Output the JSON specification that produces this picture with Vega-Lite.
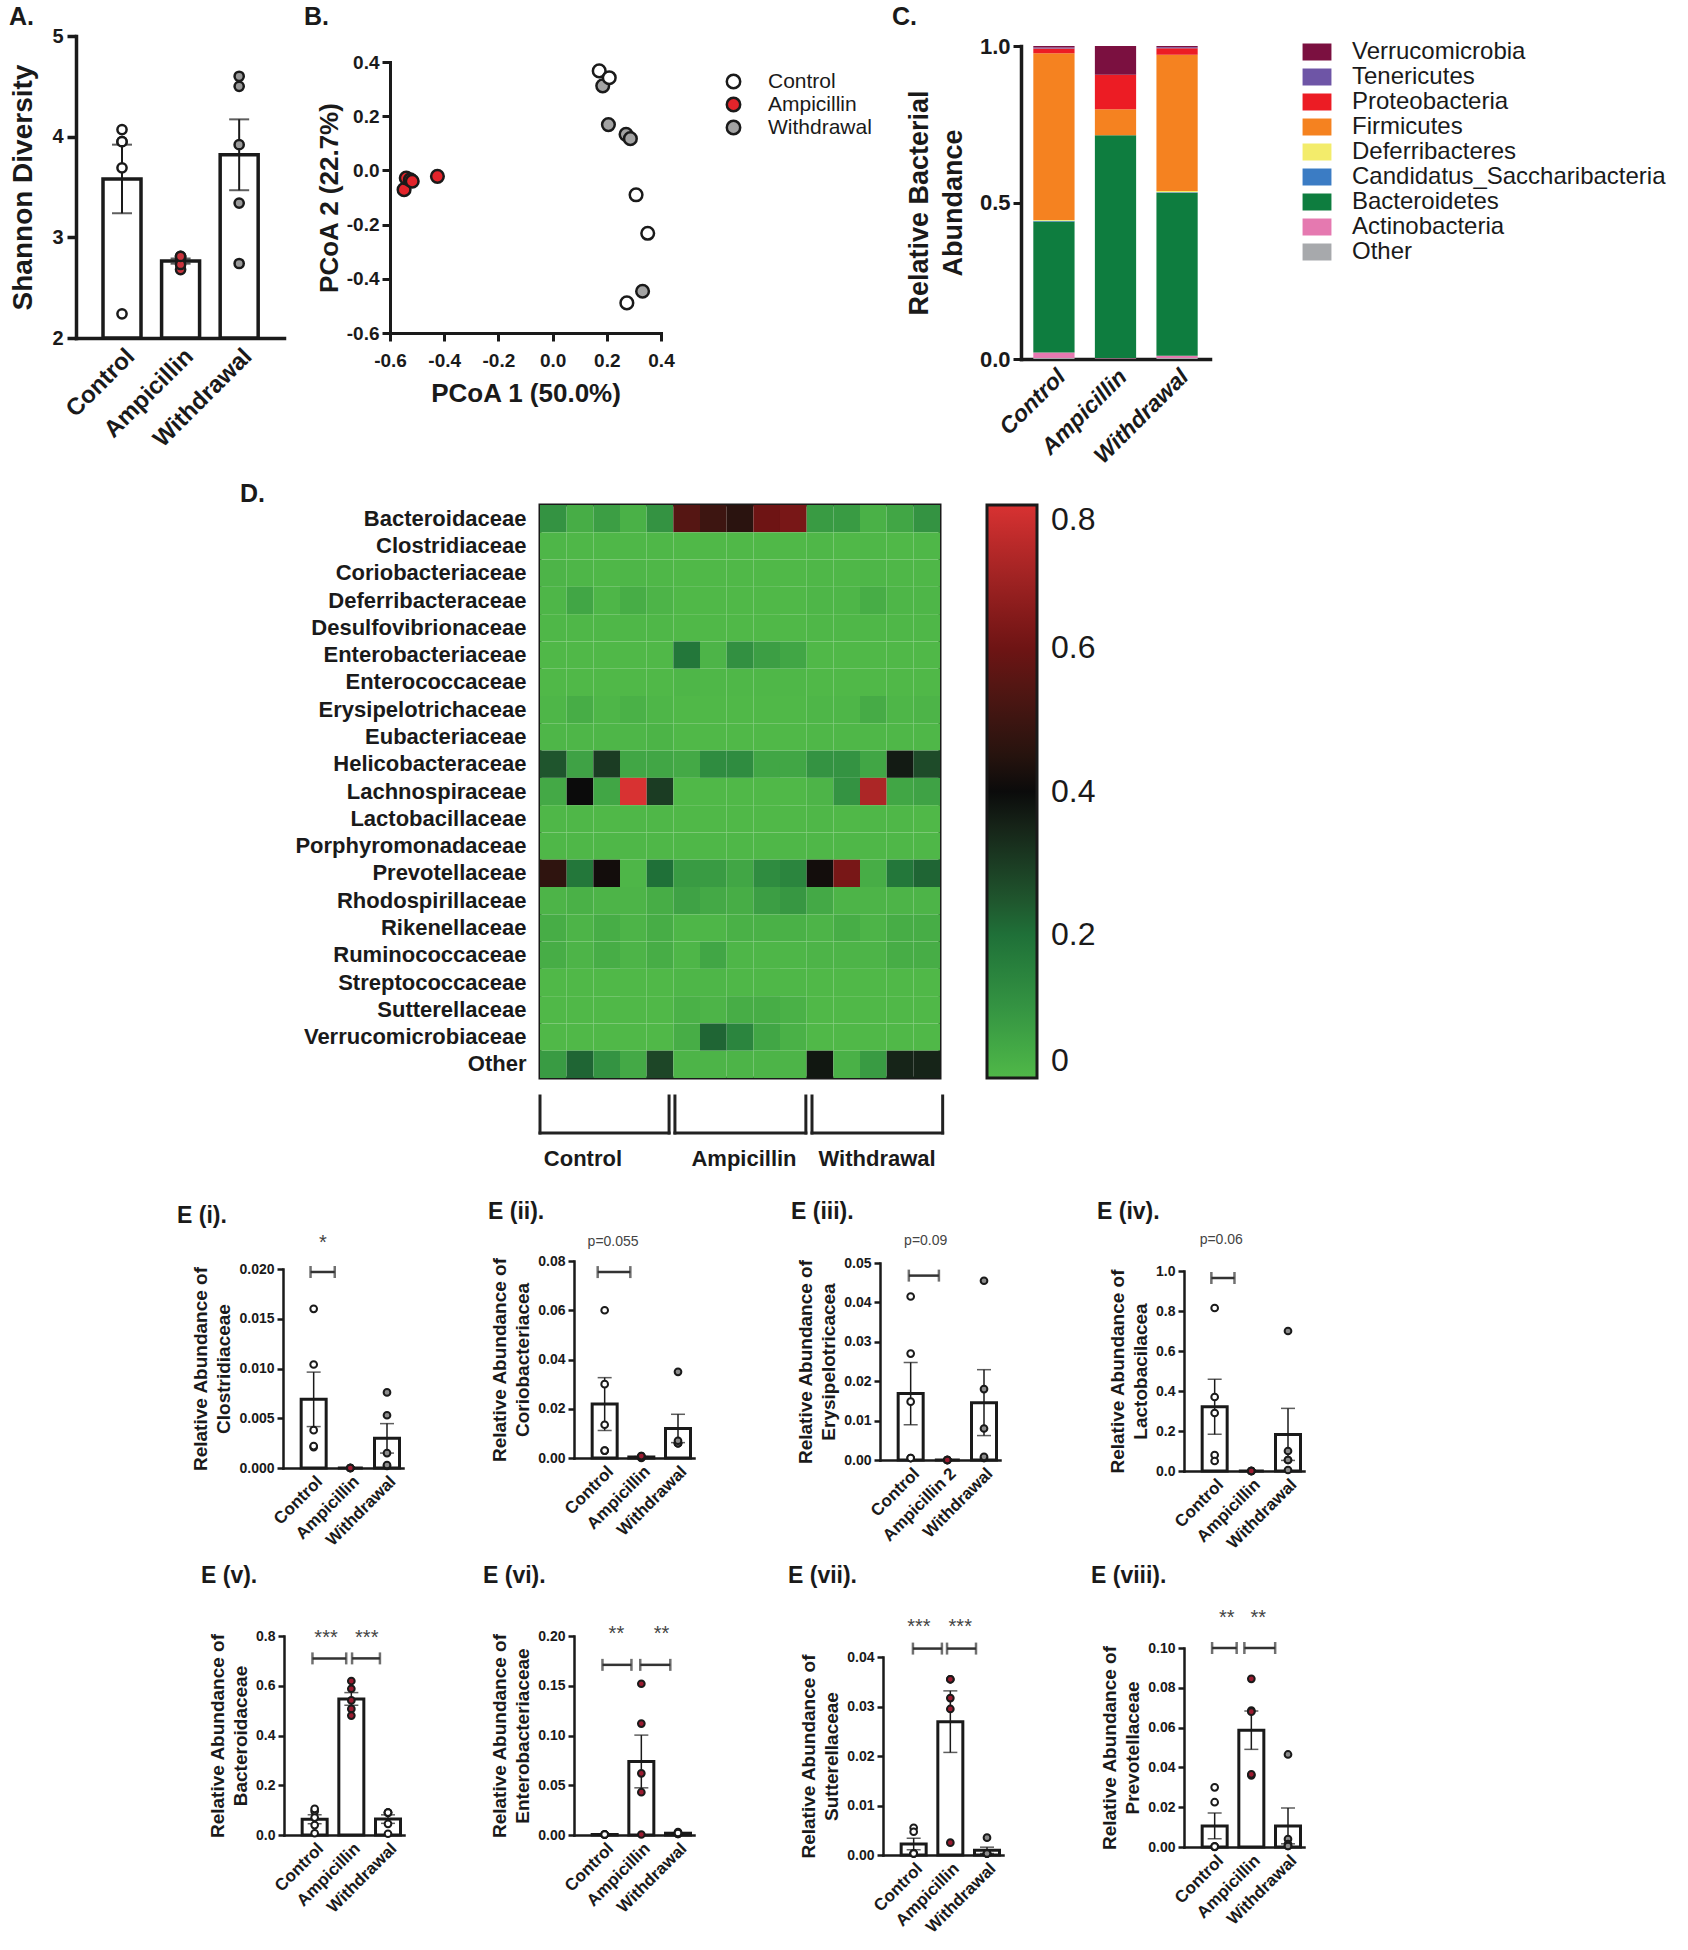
{
"$schema": "https://vega.github.io/schema/vega-lite/v6.json",
"background": "white",
"padding": {"left": 9, "top": 5, "right": 5, "bottom": 5},
"config": {
  "font": "Liberation Sans",
  "view": {"stroke": null},
  "axis": {"labelFont": "Liberation Sans", "titleFont": "Liberation Sans", "labelFontWeight": "bold", "titleFontWeight": "bold", "labelColor": "#1a1a1a", "titleColor": "#1a1a1a", "domainColor": "#1a1a1a", "tickColor": "#1a1a1a", "grid": false, "labelOverlap": false, "labelFlush": false, "domainCap": "square", "labelLimit": 400},
  "title": {"font": "Liberation Sans", "fontWeight": "bold", "color": "#1a1a1a", "anchor": "start", "frame": "group", "baseline": "bottom"},
  "legend": {"labelFont": "Liberation Sans", "labelColor": "#1a1a1a", "labelLimit": 400},
  "text": {"font": "Liberation Sans"}
},
"datasets": {
  "A": [
    {"g":1,"v":4.07,"j":0},{"g":1,"v":3.95,"j":-0.65},{"g":1,"v":3.95,"j":0.65},{"g":1,"v":3.69,"j":0},{"g":1,"v":2.24,"j":0},
    {"g":2,"v":2.81,"j":-0.9},{"g":2,"v":2.79,"j":-0.45},{"g":2,"v":2.68,"j":0},{"g":2,"v":2.73,"j":0.45},{"g":2,"v":2.81,"j":0.9},
    {"g":3,"v":4.6,"j":-0.6},{"g":3,"v":4.5,"j":0.45},{"g":3,"v":3.92,"j":0},{"g":3,"v":3.34,"j":0},{"g":3,"v":2.74,"j":0}
  ],
  "B": [
    {"grp":"Withdrawal","pc1":0.185,"pc2":0.312},{"grp":"Withdrawal","pc1":0.206,"pc2":0.169},{"grp":"Withdrawal","pc1":0.271,"pc2":0.133},{"grp":"Withdrawal","pc1":0.287,"pc2":0.117},{"grp":"Withdrawal","pc1":0.332,"pc2":-0.446},
    {"grp":"Control","pc1":0.172,"pc2":0.367},{"grp":"Control","pc1":0.209,"pc2":0.342},{"grp":"Control","pc1":0.308,"pc2":-0.09},{"grp":"Control","pc1":0.351,"pc2":-0.232},{"grp":"Control","pc1":0.274,"pc2":-0.489},
    {"grp":"Ampicillin","pc1":-0.548,"pc2":-0.071},{"grp":"Ampicillin","pc1":-0.54,"pc2":-0.028},{"grp":"Ampicillin","pc1":-0.525,"pc2":-0.035},{"grp":"Ampicillin","pc1":-0.518,"pc2":-0.04},{"grp":"Ampicillin","pc1":-0.425,"pc2":-0.022}
  ],
  "C": [
    {"grp":"Control","phylum":"Other","k":1,"v":0.003},{"grp":"Control","phylum":"Actinobacteria","k":2,"v":0.018},{"grp":"Control","phylum":"Bacteroidetes","k":3,"v":0.418},{"grp":"Control","phylum":"Candidatus_Saccharibacteria","k":4,"v":0.003},{"grp":"Control","phylum":"Deferribacteres","k":5,"v":0.002},{"grp":"Control","phylum":"Firmicutes","k":6,"v":0.533},{"grp":"Control","phylum":"Proteobacteria","k":7,"v":0.015},{"grp":"Control","phylum":"Tenericutes","k":8,"v":0.003},{"grp":"Control","phylum":"Verrucomicrobia","k":9,"v":0.005},
    {"grp":"Ampicillin","phylum":"Other","k":1,"v":0.0},{"grp":"Ampicillin","phylum":"Actinobacteria","k":2,"v":0.002},{"grp":"Ampicillin","phylum":"Bacteroidetes","k":3,"v":0.713},{"grp":"Ampicillin","phylum":"Candidatus_Saccharibacteria","k":4,"v":0.0},{"grp":"Ampicillin","phylum":"Deferribacteres","k":5,"v":0.0},{"grp":"Ampicillin","phylum":"Firmicutes","k":6,"v":0.083},{"grp":"Ampicillin","phylum":"Proteobacteria","k":7,"v":0.11},{"grp":"Ampicillin","phylum":"Tenericutes","k":8,"v":0.0},{"grp":"Ampicillin","phylum":"Verrucomicrobia","k":9,"v":0.092},
    {"grp":"Withdrawal","phylum":"Other","k":1,"v":0.003},{"grp":"Withdrawal","phylum":"Actinobacteria","k":2,"v":0.007},{"grp":"Withdrawal","phylum":"Bacteroidetes","k":3,"v":0.52},{"grp":"Withdrawal","phylum":"Candidatus_Saccharibacteria","k":4,"v":0.003},{"grp":"Withdrawal","phylum":"Deferribacteres","k":5,"v":0.004},{"grp":"Withdrawal","phylum":"Firmicutes","k":6,"v":0.435},{"grp":"Withdrawal","phylum":"Proteobacteria","k":7,"v":0.021},{"grp":"Withdrawal","phylum":"Tenericutes","k":8,"v":0.003},{"grp":"Withdrawal","phylum":"Verrucomicrobia","k":9,"v":0.004}
  ],
  "D": [
    {"f":"Bacteroidaceae","s":1,"v":0.10},{"f":"Bacteroidaceae","s":2,"v":0.03},{"f":"Bacteroidaceae","s":3,"v":0.07},{"f":"Bacteroidaceae","s":4,"v":0.02},{"f":"Bacteroidaceae","s":5,"v":0.10},{"f":"Bacteroidaceae","s":6,"v":0.55},{"f":"Bacteroidaceae","s":7,"v":0.50},{"f":"Bacteroidaceae","s":8,"v":0.46},{"f":"Bacteroidaceae","s":9,"v":0.60},{"f":"Bacteroidaceae","s":10,"v":0.62},{"f":"Bacteroidaceae","s":11,"v":0.08},{"f":"Bacteroidaceae","s":12,"v":0.08},{"f":"Bacteroidaceae","s":13,"v":0.02},{"f":"Bacteroidaceae","s":14,"v":0.05},{"f":"Bacteroidaceae","s":15,"v":0.10},
    {"f":"Clostridiaceae","s":1,"v":0.005},{"f":"Clostridiaceae","s":2,"v":0.003},{"f":"Clostridiaceae","s":3,"v":0.002},{"f":"Clostridiaceae","s":4,"v":0.004},{"f":"Clostridiaceae","s":5,"v":0.002},{"f":"Clostridiaceae","s":6,"v":0},{"f":"Clostridiaceae","s":7,"v":0},{"f":"Clostridiaceae","s":8,"v":0},{"f":"Clostridiaceae","s":9,"v":0},{"f":"Clostridiaceae","s":10,"v":0},{"f":"Clostridiaceae","s":11,"v":0.002},{"f":"Clostridiaceae","s":12,"v":0.001},{"f":"Clostridiaceae","s":13,"v":0.003},{"f":"Clostridiaceae","s":14,"v":0.001},{"f":"Clostridiaceae","s":15,"v":0.002},
    {"f":"Coriobacteriaceae","s":1,"v":0.01},{"f":"Coriobacteriaceae","s":2,"v":0.005},{"f":"Coriobacteriaceae","s":3,"v":0.003},{"f":"Coriobacteriaceae","s":4,"v":0.006},{"f":"Coriobacteriaceae","s":5,"v":0.003},{"f":"Coriobacteriaceae","s":6,"v":0},{"f":"Coriobacteriaceae","s":7,"v":0},{"f":"Coriobacteriaceae","s":8,"v":0},{"f":"Coriobacteriaceae","s":9,"v":0},{"f":"Coriobacteriaceae","s":10,"v":0},{"f":"Coriobacteriaceae","s":11,"v":0.004},{"f":"Coriobacteriaceae","s":12,"v":0.003},{"f":"Coriobacteriaceae","s":13,"v":0.006},{"f":"Coriobacteriaceae","s":14,"v":0.002},{"f":"Coriobacteriaceae","s":15,"v":0.003},
    {"f":"Deferribacteraceae","s":1,"v":0.005},{"f":"Deferribacteraceae","s":2,"v":0.05},{"f":"Deferribacteraceae","s":3,"v":0.005},{"f":"Deferribacteraceae","s":4,"v":0.03},{"f":"Deferribacteraceae","s":5,"v":0.01},{"f":"Deferribacteraceae","s":6,"v":0},{"f":"Deferribacteraceae","s":7,"v":0},{"f":"Deferribacteraceae","s":8,"v":0},{"f":"Deferribacteraceae","s":9,"v":0},{"f":"Deferribacteraceae","s":10,"v":0},{"f":"Deferribacteraceae","s":11,"v":0.005},{"f":"Deferribacteraceae","s":12,"v":0.005},{"f":"Deferribacteraceae","s":13,"v":0.03},{"f":"Deferribacteraceae","s":14,"v":0.005},{"f":"Deferribacteraceae","s":15,"v":0.005},
    {"f":"Desulfovibrionaceae","s":1,"v":0.003},{"f":"Desulfovibrionaceae","s":2,"v":0.004},{"f":"Desulfovibrionaceae","s":3,"v":0.003},{"f":"Desulfovibrionaceae","s":4,"v":0.004},{"f":"Desulfovibrionaceae","s":5,"v":0.003},{"f":"Desulfovibrionaceae","s":6,"v":0},{"f":"Desulfovibrionaceae","s":7,"v":0},{"f":"Desulfovibrionaceae","s":8,"v":0},{"f":"Desulfovibrionaceae","s":9,"v":0},{"f":"Desulfovibrionaceae","s":10,"v":0},{"f":"Desulfovibrionaceae","s":11,"v":0.003},{"f":"Desulfovibrionaceae","s":12,"v":0.002},{"f":"Desulfovibrionaceae","s":13,"v":0.004},{"f":"Desulfovibrionaceae","s":14,"v":0.003},{"f":"Desulfovibrionaceae","s":15,"v":0.003},
    {"f":"Enterobacteriaceae","s":1,"v":0},{"f":"Enterobacteriaceae","s":2,"v":0},{"f":"Enterobacteriaceae","s":3,"v":0},{"f":"Enterobacteriaceae","s":4,"v":0},{"f":"Enterobacteriaceae","s":5,"v":0},{"f":"Enterobacteriaceae","s":6,"v":0.18},{"f":"Enterobacteriaceae","s":7,"v":0.01},{"f":"Enterobacteriaceae","s":8,"v":0.11},{"f":"Enterobacteriaceae","s":9,"v":0.07},{"f":"Enterobacteriaceae","s":10,"v":0.05},{"f":"Enterobacteriaceae","s":11,"v":0},{"f":"Enterobacteriaceae","s":12,"v":0},{"f":"Enterobacteriaceae","s":13,"v":0},{"f":"Enterobacteriaceae","s":14,"v":0},{"f":"Enterobacteriaceae","s":15,"v":0},
    {"f":"Enterococcaceae","s":1,"v":0},{"f":"Enterococcaceae","s":2,"v":0},{"f":"Enterococcaceae","s":3,"v":0},{"f":"Enterococcaceae","s":4,"v":0},{"f":"Enterococcaceae","s":5,"v":0},{"f":"Enterococcaceae","s":6,"v":0.005},{"f":"Enterococcaceae","s":7,"v":0.003},{"f":"Enterococcaceae","s":8,"v":0.002},{"f":"Enterococcaceae","s":9,"v":0.002},{"f":"Enterococcaceae","s":10,"v":0.002},{"f":"Enterococcaceae","s":11,"v":0},{"f":"Enterococcaceae","s":12,"v":0},{"f":"Enterococcaceae","s":13,"v":0},{"f":"Enterococcaceae","s":14,"v":0},{"f":"Enterococcaceae","s":15,"v":0},
    {"f":"Erysipelotrichaceae","s":1,"v":0.005},{"f":"Erysipelotrichaceae","s":2,"v":0.03},{"f":"Erysipelotrichaceae","s":3,"v":0.005},{"f":"Erysipelotrichaceae","s":4,"v":0.02},{"f":"Erysipelotrichaceae","s":5,"v":0.005},{"f":"Erysipelotrichaceae","s":6,"v":0},{"f":"Erysipelotrichaceae","s":7,"v":0},{"f":"Erysipelotrichaceae","s":8,"v":0},{"f":"Erysipelotrichaceae","s":9,"v":0},{"f":"Erysipelotrichaceae","s":10,"v":0},{"f":"Erysipelotrichaceae","s":11,"v":0.005},{"f":"Erysipelotrichaceae","s":12,"v":0.005},{"f":"Erysipelotrichaceae","s":13,"v":0.035},{"f":"Erysipelotrichaceae","s":14,"v":0.005},{"f":"Erysipelotrichaceae","s":15,"v":0.01},
    {"f":"Eubacteriaceae","s":1,"v":0.005},{"f":"Eubacteriaceae","s":2,"v":0.005},{"f":"Eubacteriaceae","s":3,"v":0.005},{"f":"Eubacteriaceae","s":4,"v":0.005},{"f":"Eubacteriaceae","s":5,"v":0.012},{"f":"Eubacteriaceae","s":6,"v":0},{"f":"Eubacteriaceae","s":7,"v":0},{"f":"Eubacteriaceae","s":8,"v":0},{"f":"Eubacteriaceae","s":9,"v":0},{"f":"Eubacteriaceae","s":10,"v":0},{"f":"Eubacteriaceae","s":11,"v":0.003},{"f":"Eubacteriaceae","s":12,"v":0.003},{"f":"Eubacteriaceae","s":13,"v":0.003},{"f":"Eubacteriaceae","s":14,"v":0.003},{"f":"Eubacteriaceae","s":15,"v":0.003},
    {"f":"Helicobacteraceae","s":1,"v":0.25},{"f":"Helicobacteraceae","s":2,"v":0.06},{"f":"Helicobacteraceae","s":3,"v":0.30},{"f":"Helicobacteraceae","s":4,"v":0.05},{"f":"Helicobacteraceae","s":5,"v":0.05},{"f":"Helicobacteraceae","s":6,"v":0.04},{"f":"Helicobacteraceae","s":7,"v":0.12},{"f":"Helicobacteraceae","s":8,"v":0.12},{"f":"Helicobacteraceae","s":9,"v":0.05},{"f":"Helicobacteraceae","s":10,"v":0.05},{"f":"Helicobacteraceae","s":11,"v":0.10},{"f":"Helicobacteraceae","s":12,"v":0.10},{"f":"Helicobacteraceae","s":13,"v":0.05},{"f":"Helicobacteraceae","s":14,"v":0.37},{"f":"Helicobacteraceae","s":15,"v":0.27},
    {"f":"Lachnospiraceae","s":1,"v":0.04},{"f":"Lachnospiraceae","s":2,"v":0.40},{"f":"Lachnospiraceae","s":3,"v":0.05},{"f":"Lachnospiraceae","s":4,"v":0.80},{"f":"Lachnospiraceae","s":5,"v":0.30},{"f":"Lachnospiraceae","s":6,"v":0},{"f":"Lachnospiraceae","s":7,"v":0},{"f":"Lachnospiraceae","s":8,"v":0},{"f":"Lachnospiraceae","s":9,"v":0},{"f":"Lachnospiraceae","s":10,"v":0},{"f":"Lachnospiraceae","s":11,"v":0.01},{"f":"Lachnospiraceae","s":12,"v":0.10},{"f":"Lachnospiraceae","s":13,"v":0.72},{"f":"Lachnospiraceae","s":14,"v":0.05},{"f":"Lachnospiraceae","s":15,"v":0.06},
    {"f":"Lactobacillaceae","s":1,"v":0.003},{"f":"Lactobacillaceae","s":2,"v":0.002},{"f":"Lactobacillaceae","s":3,"v":0.001},{"f":"Lactobacillaceae","s":4,"v":0.002},{"f":"Lactobacillaceae","s":5,"v":0.002},{"f":"Lactobacillaceae","s":6,"v":0},{"f":"Lactobacillaceae","s":7,"v":0},{"f":"Lactobacillaceae","s":8,"v":0},{"f":"Lactobacillaceae","s":9,"v":0},{"f":"Lactobacillaceae","s":10,"v":0},{"f":"Lactobacillaceae","s":11,"v":0.002},{"f":"Lactobacillaceae","s":12,"v":0.001},{"f":"Lactobacillaceae","s":13,"v":0.003},{"f":"Lactobacillaceae","s":14,"v":0.002},{"f":"Lactobacillaceae","s":15,"v":0.001},
    {"f":"Porphyromonadaceae","s":1,"v":0.003},{"f":"Porphyromonadaceae","s":2,"v":0.003},{"f":"Porphyromonadaceae","s":3,"v":0.002},{"f":"Porphyromonadaceae","s":4,"v":0.003},{"f":"Porphyromonadaceae","s":5,"v":0.002},{"f":"Porphyromonadaceae","s":6,"v":0.002},{"f":"Porphyromonadaceae","s":7,"v":0.002},{"f":"Porphyromonadaceae","s":8,"v":0.002},{"f":"Porphyromonadaceae","s":9,"v":0.002},{"f":"Porphyromonadaceae","s":10,"v":0.002},{"f":"Porphyromonadaceae","s":11,"v":0.003},{"f":"Porphyromonadaceae","s":12,"v":0.002},{"f":"Porphyromonadaceae","s":13,"v":0.003},{"f":"Porphyromonadaceae","s":14,"v":0.002},{"f":"Porphyromonadaceae","s":15,"v":0.003},
    {"f":"Prevotellaceae","s":1,"v":0.47},{"f":"Prevotellaceae","s":2,"v":0.18},{"f":"Prevotellaceae","s":3,"v":0.41},{"f":"Prevotellaceae","s":4,"v":0.005},{"f":"Prevotellaceae","s":5,"v":0.20},{"f":"Prevotellaceae","s":6,"v":0.08},{"f":"Prevotellaceae","s":7,"v":0.08},{"f":"Prevotellaceae","s":8,"v":0.05},{"f":"Prevotellaceae","s":9,"v":0.12},{"f":"Prevotellaceae","s":10,"v":0.14},{"f":"Prevotellaceae","s":11,"v":0.41},{"f":"Prevotellaceae","s":12,"v":0.62},{"f":"Prevotellaceae","s":13,"v":0.03},{"f":"Prevotellaceae","s":14,"v":0.18},{"f":"Prevotellaceae","s":15,"v":0.22},
    {"f":"Rhodospirillaceae","s":1,"v":0.01},{"f":"Rhodospirillaceae","s":2,"v":0.02},{"f":"Rhodospirillaceae","s":3,"v":0.01},{"f":"Rhodospirillaceae","s":4,"v":0.01},{"f":"Rhodospirillaceae","s":5,"v":0.03},{"f":"Rhodospirillaceae","s":6,"v":0.06},{"f":"Rhodospirillaceae","s":7,"v":0.04},{"f":"Rhodospirillaceae","s":8,"v":0.03},{"f":"Rhodospirillaceae","s":9,"v":0.07},{"f":"Rhodospirillaceae","s":10,"v":0.09},{"f":"Rhodospirillaceae","s":11,"v":0.04},{"f":"Rhodospirillaceae","s":12,"v":0.01},{"f":"Rhodospirillaceae","s":13,"v":0.01},{"f":"Rhodospirillaceae","s":14,"v":0.01},{"f":"Rhodospirillaceae","s":15,"v":0.01},
    {"f":"Rikenellaceae","s":1,"v":0.03},{"f":"Rikenellaceae","s":2,"v":0.01},{"f":"Rikenellaceae","s":3,"v":0.03},{"f":"Rikenellaceae","s":4,"v":0.01},{"f":"Rikenellaceae","s":5,"v":0.03},{"f":"Rikenellaceae","s":6,"v":0.005},{"f":"Rikenellaceae","s":7,"v":0.005},{"f":"Rikenellaceae","s":8,"v":0.02},{"f":"Rikenellaceae","s":9,"v":0.02},{"f":"Rikenellaceae","s":10,"v":0.02},{"f":"Rikenellaceae","s":11,"v":0.01},{"f":"Rikenellaceae","s":12,"v":0.03},{"f":"Rikenellaceae","s":13,"v":0.01},{"f":"Rikenellaceae","s":14,"v":0.03},{"f":"Rikenellaceae","s":15,"v":0.03},
    {"f":"Ruminococcaceae","s":1,"v":0.03},{"f":"Ruminococcaceae","s":2,"v":0.01},{"f":"Ruminococcaceae","s":3,"v":0.03},{"f":"Ruminococcaceae","s":4,"v":0.01},{"f":"Ruminococcaceae","s":5,"v":0.03},{"f":"Ruminococcaceae","s":6,"v":0.005},{"f":"Ruminococcaceae","s":7,"v":0.05},{"f":"Ruminococcaceae","s":8,"v":0.005},{"f":"Ruminococcaceae","s":9,"v":0.005},{"f":"Ruminococcaceae","s":10,"v":0.005},{"f":"Ruminococcaceae","s":11,"v":0.01},{"f":"Ruminococcaceae","s":12,"v":0.01},{"f":"Ruminococcaceae","s":13,"v":0.01},{"f":"Ruminococcaceae","s":14,"v":0.03},{"f":"Ruminococcaceae","s":15,"v":0.03},
    {"f":"Streptococcaceae","s":1,"v":0},{"f":"Streptococcaceae","s":2,"v":0},{"f":"Streptococcaceae","s":3,"v":0},{"f":"Streptococcaceae","s":4,"v":0},{"f":"Streptococcaceae","s":5,"v":0},{"f":"Streptococcaceae","s":6,"v":0.005},{"f":"Streptococcaceae","s":7,"v":0.005},{"f":"Streptococcaceae","s":8,"v":0.003},{"f":"Streptococcaceae","s":9,"v":0.003},{"f":"Streptococcaceae","s":10,"v":0.003},{"f":"Streptococcaceae","s":11,"v":0},{"f":"Streptococcaceae","s":12,"v":0},{"f":"Streptococcaceae","s":13,"v":0},{"f":"Streptococcaceae","s":14,"v":0},{"f":"Streptococcaceae","s":15,"v":0},
    {"f":"Sutterellaceae","s":1,"v":0},{"f":"Sutterellaceae","s":2,"v":0},{"f":"Sutterellaceae","s":3,"v":0},{"f":"Sutterellaceae","s":4,"v":0},{"f":"Sutterellaceae","s":5,"v":0},{"f":"Sutterellaceae","s":6,"v":0.02},{"f":"Sutterellaceae","s":7,"v":0.01},{"f":"Sutterellaceae","s":8,"v":0.03},{"f":"Sutterellaceae","s":9,"v":0.03},{"f":"Sutterellaceae","s":10,"v":0.02},{"f":"Sutterellaceae","s":11,"v":0},{"f":"Sutterellaceae","s":12,"v":0},{"f":"Sutterellaceae","s":13,"v":0},{"f":"Sutterellaceae","s":14,"v":0},{"f":"Sutterellaceae","s":15,"v":0},
    {"f":"Verrucomicrobiaceae","s":1,"v":0},{"f":"Verrucomicrobiaceae","s":2,"v":0},{"f":"Verrucomicrobiaceae","s":3,"v":0},{"f":"Verrucomicrobiaceae","s":4,"v":0},{"f":"Verrucomicrobiaceae","s":5,"v":0},{"f":"Verrucomicrobiaceae","s":6,"v":0.03},{"f":"Verrucomicrobiaceae","s":7,"v":0.22},{"f":"Verrucomicrobiaceae","s":8,"v":0.14},{"f":"Verrucomicrobiaceae","s":9,"v":0.05},{"f":"Verrucomicrobiaceae","s":10,"v":0.02},{"f":"Verrucomicrobiaceae","s":11,"v":0},{"f":"Verrucomicrobiaceae","s":12,"v":0},{"f":"Verrucomicrobiaceae","s":13,"v":0},{"f":"Verrucomicrobiaceae","s":14,"v":0},{"f":"Verrucomicrobiaceae","s":15,"v":0},
    {"f":"Other","s":1,"v":0.08},{"f":"Other","s":2,"v":0.22},{"f":"Other","s":3,"v":0.10},{"f":"Other","s":4,"v":0.04},{"f":"Other","s":5,"v":0.28},{"f":"Other","s":6,"v":0.01},{"f":"Other","s":7,"v":0.01},{"f":"Other","s":8,"v":0.01},{"f":"Other","s":9,"v":0.01},{"f":"Other","s":10,"v":0.01},{"f":"Other","s":11,"v":0.38},{"f":"Other","s":12,"v":0.02},{"f":"Other","s":13,"v":0.08},{"f":"Other","s":14,"v":0.35},{"f":"Other","s":15,"v":0.35}
  ],
  "DB": [
    {"grp":"Control","a":0.5,"b":5.34,"m":2.11},
    {"grp":"Ampicillin","a":5.56,"b":10.47,"m":8.15},
    {"grp":"Withdrawal","a":10.7,"b":15.6,"m":13.14}
  ],
  "E": [
    {"p":"i","g":1,"v":0.016,"j":0},{"p":"i","g":1,"v":0.0104,"j":0},{"p":"i","g":1,"v":0.0038,"j":0},{"p":"i","g":1,"v":0.0021,"j":-0.6},{"p":"i","g":1,"v":0.0022,"j":0.6},
    {"p":"i","g":2,"v":0,"j":-1},{"p":"i","g":2,"v":0,"j":-0.5},{"p":"i","g":2,"v":0,"j":0},{"p":"i","g":2,"v":0,"j":0.5},{"p":"i","g":2,"v":0,"j":1},
    {"p":"i","g":3,"v":0.0076,"j":0},{"p":"i","g":3,"v":0.0053,"j":0},{"p":"i","g":3,"v":0.0015,"j":0},{"p":"i","g":3,"v":0.0002,"j":-0.6},{"p":"i","g":3,"v":0.0003,"j":0.6},
    {"p":"ii","g":1,"v":0.06,"j":0},{"p":"ii","g":1,"v":0.03,"j":0},{"p":"ii","g":1,"v":0.0135,"j":0},{"p":"ii","g":1,"v":0.003,"j":-0.6},{"p":"ii","g":1,"v":0.003,"j":0.6},
    {"p":"ii","g":2,"v":0.0008,"j":-1},{"p":"ii","g":2,"v":0.0003,"j":-0.5},{"p":"ii","g":2,"v":0,"j":0},{"p":"ii","g":2,"v":0.0003,"j":0.5},{"p":"ii","g":2,"v":0.0008,"j":1},
    {"p":"ii","g":3,"v":0.035,"j":0},{"p":"ii","g":3,"v":0.006,"j":-0.9},{"p":"ii","g":3,"v":0.006,"j":-0.3},{"p":"ii","g":3,"v":0.006,"j":0.3},{"p":"ii","g":3,"v":0.007,"j":0.9},
    {"p":"iii","g":1,"v":0.0415,"j":0},{"p":"iii","g":1,"v":0.027,"j":0},{"p":"iii","g":1,"v":0.0148,"j":0},{"p":"iii","g":1,"v":0.0005,"j":-0.6},{"p":"iii","g":1,"v":0.0005,"j":0.6},
    {"p":"iii","g":2,"v":0,"j":-1},{"p":"iii","g":2,"v":0,"j":-0.5},{"p":"iii","g":2,"v":0,"j":0},{"p":"iii","g":2,"v":0,"j":0.5},{"p":"iii","g":2,"v":0,"j":1},
    {"p":"iii","g":3,"v":0.0455,"j":0},{"p":"iii","g":3,"v":0.018,"j":0},{"p":"iii","g":3,"v":0.008,"j":0},{"p":"iii","g":3,"v":0.0005,"j":-0.6},{"p":"iii","g":3,"v":0.0008,"j":0.6},
    {"p":"iv","g":1,"v":0.815,"j":0},{"p":"iv","g":1,"v":0.37,"j":0},{"p":"iv","g":1,"v":0.29,"j":0},{"p":"iv","g":1,"v":0.08,"j":0.6},{"p":"iv","g":1,"v":0.05,"j":-0.6},
    {"p":"iv","g":2,"v":0,"j":-1},{"p":"iv","g":2,"v":0,"j":-0.5},{"p":"iv","g":2,"v":0,"j":0},{"p":"iv","g":2,"v":0,"j":0.5},{"p":"iv","g":2,"v":0,"j":1},
    {"p":"iv","g":3,"v":0.70,"j":0},{"p":"iv","g":3,"v":0.10,"j":0.9},{"p":"iv","g":3,"v":0.055,"j":-0.7},{"p":"iv","g":3,"v":0.055,"j":0.2},{"p":"iv","g":3,"v":0.005,"j":0},
    {"p":"v","g":1,"v":0.095,"j":-1},{"p":"v","g":1,"v":0.105,"j":1},{"p":"v","g":1,"v":0.07,"j":0.2},{"p":"v","g":1,"v":0.04,"j":0.8},{"p":"v","g":1,"v":0.007,"j":-0.4},
    {"p":"v","g":2,"v":0.619,"j":0.6},{"p":"v","g":2,"v":0.588,"j":-0.6},{"p":"v","g":2,"v":0.541,"j":0},{"p":"v","g":2,"v":0.507,"j":0.5},{"p":"v","g":2,"v":0.48,"j":-0.5},
    {"p":"v","g":3,"v":0.09,"j":-0.9},{"p":"v","g":3,"v":0.09,"j":0},{"p":"v","g":3,"v":0.09,"j":0.9},{"p":"v","g":3,"v":0.045,"j":0.4},{"p":"v","g":3,"v":0.005,"j":-0.2},
    {"p":"vi","g":1,"v":0.0005,"j":-1},{"p":"vi","g":1,"v":0.0005,"j":-0.5},{"p":"vi","g":1,"v":0.0005,"j":0},{"p":"vi","g":1,"v":0.0005,"j":0.5},{"p":"vi","g":1,"v":0.0005,"j":1},
    {"p":"vi","g":2,"v":0.152,"j":0},{"p":"vi","g":2,"v":0.112,"j":0},{"p":"vi","g":2,"v":0.062,"j":0},{"p":"vi","g":2,"v":0.043,"j":0},{"p":"vi","g":2,"v":0.0005,"j":0},
    {"p":"vi","g":3,"v":0.003,"j":-1},{"p":"vi","g":3,"v":0.002,"j":-0.5},{"p":"vi","g":3,"v":0.001,"j":0},{"p":"vi","g":3,"v":0.001,"j":0.5},{"p":"vi","g":3,"v":0.002,"j":1},
    {"p":"vii","g":1,"v":0.0055,"j":-0.5},{"p":"vii","g":1,"v":0.0047,"j":0.5},{"p":"vii","g":1,"v":0.0003,"j":-0.9},{"p":"vii","g":1,"v":0.0003,"j":0},{"p":"vii","g":1,"v":0.0003,"j":0.9},
    {"p":"vii","g":2,"v":0.0355,"j":-0.5},{"p":"vii","g":2,"v":0.0355,"j":0.5},{"p":"vii","g":2,"v":0.0317,"j":0},{"p":"vii","g":2,"v":0.0295,"j":0},{"p":"vii","g":2,"v":0.0025,"j":0},
    {"p":"vii","g":3,"v":0.0035,"j":0},{"p":"vii","g":3,"v":0.0003,"j":-1},{"p":"vii","g":3,"v":0.0003,"j":-0.5},{"p":"vii","g":3,"v":0.0003,"j":0.5},{"p":"vii","g":3,"v":0.0003,"j":1},
    {"p":"viii","g":1,"v":0.03,"j":0},{"p":"viii","g":1,"v":0.0225,"j":0},{"p":"viii","g":1,"v":0.0003,"j":-0.9},{"p":"viii","g":1,"v":0,"j":0},{"p":"viii","g":1,"v":0.0002,"j":0.9},
    {"p":"viii","g":2,"v":0.0845,"j":0},{"p":"viii","g":2,"v":0.0685,"j":-0.5},{"p":"viii","g":2,"v":0.068,"j":0.5},{"p":"viii","g":2,"v":0.036,"j":-0.5},{"p":"viii","g":2,"v":0.0365,"j":0.5},
    {"p":"viii","g":3,"v":0.0465,"j":0},{"p":"viii","g":3,"v":0.004,"j":1},{"p":"viii","g":3,"v":0.0015,"j":-0.9},{"p":"viii","g":3,"v":0.0005,"j":-0.3},{"p":"viii","g":3,"v":0.0005,"j":0.4}
  ],
  "EB": [
    {"p":"i","a":0.915,"b":1.575,"h":0.0197},
    {"p":"ii","a":0.81,"b":1.7,"h":0.0755},
    {"p":"iii","a":0.95,"b":1.77,"h":0.0468},
    {"p":"iv","a":0.91,"b":1.54,"h":0.965},
    {"p":"v","a":0.94,"b":1.86,"h":0.71},{"p":"v","a":2.02,"b":2.78,"h":0.71},
    {"p":"vi","a":0.94,"b":1.73,"h":0.171},{"p":"vi","a":1.97,"b":2.79,"h":0.171},
    {"p":"vii","a":0.98,"b":1.77,"h":0.0417},{"p":"vii","a":1.91,"b":2.7,"h":0.0417},
    {"p":"viii","a":0.93,"b":1.6,"h":0.1},{"p":"viii","a":1.81,"b":2.65,"h":0.1}
  ],
  "ET": [
    {"p":"i","x":1.25,"y":0.0232,"t":"*"},
    {"p":"ii","x":1.23,"y":0.0877,"t":"p=0.055"},
    {"p":"iii","x":1.41,"y":0.0555,"t":"p=0.09"},
    {"p":"iv","x":1.18,"y":1.156,"t":"p=0.06"},
    {"p":"v","x":1.31,"y":0.816,"t":"***"},{"p":"v","x":2.42,"y":0.816,"t":"***"},
    {"p":"vi","x":1.32,"y":0.208,"t":"**"},{"p":"vi","x":2.55,"y":0.208,"t":"**"},
    {"p":"vii","x":1.14,"y":0.0473,"t":"***"},{"p":"vii","x":2.27,"y":0.0473,"t":"***"},
    {"p":"viii","x":1.33,"y":0.118,"t":"**"},{"p":"viii","x":2.19,"y":0.118,"t":"**"}
  ]
},
"resolve": {"scale": {"color": "independent", "fill": "independent", "xOffset": "independent", "size": "independent"}, "legend": {"color": "independent", "fill": "independent"}},
"spacing": 28,
"vconcat": [
 {"spacing": 12,
  "resolve": {"scale": {"color": "independent", "fill": "independent", "xOffset": "independent", "size": "independent"}, "legend": {"color": "independent", "fill": "independent"}},
  "vconcat": [
   {"spacing": 20,
    "resolve": {"scale": {"color": "independent", "fill": "independent", "xOffset": "independent", "size": "independent"}, "legend": {"color": "independent", "fill": "independent"}},
    "hconcat": [
     {"width": 208, "height": 302,
      "title": {"text": "A.", "dx": -67, "offset": -4, "fontSize": 25},
      "data": {"name": "A"},
      "layer": [
       {"mark": {"type": "bar", "width": 38, "fill": "white", "stroke": "#1a1a1a", "strokeWidth": 3.5},
        "encoding": {
         "x": {"field": "g", "type": "quantitative", "scale": {"domain": [0.3, 3.68], "nice": false, "zero": false},
               "axis": {"values": [1,2,3], "labelExpr": "datum.value==1?'Control':datum.value==2?'Ampicillin':'Withdrawal'", "labelAngle": -45, "labelFontSize": 24, "ticks": false, "domainWidth": 3.5, "title": null, "labelPadding": 6}},
         "y": {"aggregate": "mean", "field": "v", "type": "quantitative", "scale": {"domain": [2, 5], "nice": false, "zero": false},
               "axis": {"values": [2,3,4,5], "tickCount": 20, "format": "d", "labelFontSize": 20, "tickSize": 9, "tickWidth": 3.5, "domainWidth": 3.5, "title": "Shannon Diversity", "titleFontSize": 28, "titlePadding": 14, "labelPadding": 4}},
         "y2": {"datum": 2}
        }},
       {"mark": {"type": "errorbar", "extent": "stderr", "orient": "vertical", "color": "#1a1a1a", "ticks": {"size": 20, "thickness": 2}, "rule": {"strokeWidth": 2}},
        "encoding": {"x": {"field": "g", "type": "quantitative", "title": ""}, "y": {"field": "v", "type": "quantitative", "title": ""}}},
       {"mark": {"type": "point", "filled": true, "size": 85, "stroke": "#1a1a1a", "strokeWidth": 2.5, "opacity": 1},
        "encoding": {
         "x": {"field": "g", "type": "quantitative", "title": ""},
         "xOffset": {"field": "j", "type": "quantitative", "scale": {"domain": [-1, 1], "range": [-13, 13]}},
         "y": {"field": "v", "type": "quantitative", "title": ""},
         "fill": {"condition": [{"test": "datum.g==2", "value": "#c8323c"}, {"test": "datum.g==3", "value": "#9a9a9a"}], "value": "white"}
        }}
      ]
     },
     {"width": 271, "height": 297,
      "title": {"text": "B.", "dx": -86, "offset": 6, "fontSize": 25},
      "data": {"name": "B"},
      "mark": {"type": "point", "filled": true, "size": 160, "stroke": "#1a1a1a", "strokeWidth": 2.5, "opacity": 1},
      "encoding": {
       "x": {"field": "pc1", "type": "quantitative", "scale": {"domain": [-0.6, 0.4], "nice": false, "zero": false},
             "axis": {"values": [-0.6,-0.4,-0.2,0,0.2,0.4], "tickCount": 20, "labelExpr": "replace(format(datum.value, '.1f'), '\u2212', '-')", "labelFontSize": 19, "tickSize": 8, "tickWidth": 3, "domainWidth": 3, "title": "PCoA 1 (50.0%)", "titleFontSize": 26, "titlePadding": 10, "labelPadding": 10}},
       "y": {"field": "pc2", "type": "quantitative", "scale": {"domain": [-0.6, 0.4], "range": [297, 26], "nice": false, "zero": false},
             "axis": {"values": [-0.6,-0.4,-0.2,0,0.2,0.4], "tickCount": 20, "labelExpr": "replace(format(datum.value, '.1f'), '\u2212', '-')", "labelFontSize": 19, "tickSize": 8, "tickWidth": 3, "domainWidth": 3, "title": "PCoA 2 (22.7%)", "titleFontSize": 26, "titlePadding": 4, "labelPadding": 3}},
       "fill": {"field": "grp", "type": "nominal", "scale": {"domain": ["Control", "Ampicillin", "Withdrawal"], "range": ["#ffffff", "#e3242b", "#a3a3a3"]},
                "legend": {"orient": "none", "legendX": 333, "legendY": 35, "title": null, "labelFontSize": 21, "symbolType": "circle", "symbolSize": 180, "symbolStrokeColor": "#1a1a1a", "symbolStrokeWidth": 2.5, "labelOffset": 24, "rowPadding": -2.5, "labelFontWeight": "normal"}}
      }
     },
     {"width": 189, "height": 323,
      "title": {"text": "C.", "dx": -129, "offset": 5, "fontSize": 25},
      "data": {"name": "C"},
      "mark": {"type": "bar"},
      "encoding": {
       "x": {"field": "grp", "type": "nominal", "sort": null, "scale": {"paddingInner": 0.33, "paddingOuter": 0.2},
             "axis": {"labelAngle": -45, "labelFontSize": 23, "labelFontStyle": "italic", "ticks": false, "domainWidth": 3.5, "title": null, "labelPadding": 6}},
       "y": {"field": "v", "type": "quantitative", "stack": "zero", "scale": {"domain": [0, 1], "range": [323, 10], "nice": false},
             "axis": {"values": [0, 0.5, 1], "format": ".1f", "labelFontSize": 22, "tickSize": 8, "tickWidth": 3, "domainWidth": 3.5, "title": ["Relative Bacterial", "Abundance"], "titleFontSize": 27, "titleLineHeight": 34, "titlePadding": 12, "labelPadding": 3}},
       "color": {"field": "phylum", "type": "nominal",
                 "scale": {"domain": ["Verrucomicrobia", "Tenericutes", "Proteobacteria", "Firmicutes", "Deferribacteres", "Candidatus_Saccharibacteria", "Bacteroidetes", "Actinobacteria", "Other"],
                           "range": ["#7b1040", "#6e55a6", "#ec1c24", "#f58220", "#f3ec6b", "#3b7cc4", "#0e7d3f", "#e579b0", "#a7a9ac"]},
                 "legend": {"orient": "none", "legendX": 284, "legendY": 4, "title": null, "labelFontSize": 24, "symbolType": "M-1.7,-1H1.7V1H-1.7Z", "symbolSize": 289, "symbolStrokeWidth": 0, "labelOffset": 23, "rowPadding": 1, "labelFontWeight": "normal"}},
       "order": {"field": "k", "type": "quantitative"}
      }
     }
    ]
   },
   {"spacing": 10,
    "resolve": {"scale": {"color": "independent", "fill": "independent", "xOffset": "independent", "size": "independent"}, "legend": {"color": "independent", "fill": "independent"}},
    "hconcat": [
     {"width": 152, "height": 5, "data": {"values": []}, "mark": "point", "encoding": {}},
     {"width": 400, "height": 573,
      "title": {"text": "D.", "dx": -300, "offset": -2, "fontSize": 25},
      "view": {"stroke": "#1a1a1a", "strokeWidth": 3},
      "resolve": {"scale": {"x": "independent", "y": "independent"}},
      "layer": [
       {"data": {"name": "D"},
        "mark": {"type": "rect", "strokeWidth": 0},
        "encoding": {
         "x": {"field": "s", "type": "ordinal", "sort": null, "scale": {"paddingInner": 0, "paddingOuter": 0}, "axis": null},
         "y": {"field": "f", "type": "nominal", "sort": null, "scale": {"paddingInner": 0, "paddingOuter": 0},
               "axis": {"title": null, "ticks": false, "domain": false, "labelFontSize": 22, "labelPadding": 14, "labelLimit": 400}},
         "color": {"field": "v", "type": "quantitative",
                   "scale": {"domain": [0, 0.2, 0.4, 0.6, 0.8], "range": ["#50b848", "#1f7038", "#0b0b0b", "#6e1414", "#d83232"], "clamp": true},
                   "legend": {"orient": "none", "legendX": 447, "legendY": 0, "title": null, "direction": "vertical", "gradientLength": 573, "gradientThickness": 50, "gradientStrokeColor": "#1a1a1a", "gradientStrokeWidth": 3, "values": [0, 0.2, 0.4, 0.6, 0.8], "labelExpr": "datum.value == 0 ? '0' : format(datum.value, '.1f')", "labelFontSize": 32, "labelOffset": 14, "labelFontWeight": "normal"}}
        }},
       {"data": {"name": "DB"},
        "layer": [
         {"mark": {"type": "rule", "strokeWidth": 3, "color": "#222222", "strokeCap": "square"},
          "encoding": {
           "x": {"field": "a", "type": "quantitative", "scale": {"domain": [0.5, 15.5], "nice": false, "zero": false}, "axis": null},
           "x2": {"field": "b"},
           "y": {"datum": 1, "type": "quantitative", "scale": {"domain": [0, 1], "range": [591, 628], "nice": false, "zero": false}, "axis": null}
          }},
         {"transform": [{"fold": ["a", "b"], "as": ["end", "xe"]}],
          "mark": {"type": "rule", "strokeWidth": 3, "color": "#222222", "strokeCap": "square"},
          "encoding": {
           "x": {"field": "xe", "type": "quantitative", "axis": null},
           "y": {"datum": 0, "type": "quantitative", "axis": null},
           "y2": {"datum": 1}
          }},
         {"mark": {"type": "text", "fontSize": 22, "fontWeight": "bold", "color": "#1a1a1a", "baseline": "middle"},
          "encoding": {
           "x": {"field": "m", "type": "quantitative", "axis": null},
           "y": {"datum": 1.7, "type": "quantitative", "axis": null},
           "text": {"field": "grp"}
          }}
        ]}
      ]
     }
    ]
   }
  ]
 },
 {"spacing": 12,
  "resolve": {"scale": {"color": "independent", "fill": "independent", "xOffset": "independent", "size": "independent"}, "legend": {"color": "independent", "fill": "independent"}},
  "vconcat": [
   {"spacing": 20,
    "resolve": {"scale": {"color": "independent", "fill": "independent", "xOffset": "independent", "size": "independent"}, "legend": {"color": "independent", "fill": "independent"}},
    "hconcat": [
     {"width": 81, "height": 5, "data": {"values": []}, "mark": "point", "encoding": {}},
     {"width": 185, "height": 207,
      "title": {"text": "E (i).", "dx": -106, "offset": 5, "fontSize": 23},
      "layer": [
       {"data": {"name": "E"}, "transform": [{"filter": "datum.p=='i'"}],
        "mark": {"type": "bar", "width": 25, "fill": "white", "stroke": "#1a1a1a", "strokeWidth": 3},
        "encoding": {
         "x": {"field": "g", "type": "quantitative", "scale": {"domain": [0.3, 3.3], "range": [0, 120], "nice": false, "zero": false},
               "axis": {"values": [1,2,3], "labelExpr": "datum.value==1?'Control':datum.value==2?'Ampicillin':'Withdrawal'", "labelAngle": -45, "labelFontSize": 17, "ticks": false, "domainWidth": 2.5, "title": null, "labelPadding": 5}},
         "y": {"aggregate": "mean", "field": "v", "type": "quantitative", "scale": {"domain": [0, 0.02], "range": [207, 8], "nice": false},
               "axis": {"values": [0, 0.005, 0.01, 0.015, 0.02], "tickCount": 20, "format": ".3f", "labelFontSize": 14, "tickSize": 6, "tickWidth": 2.5, "domainWidth": 2.5, "title": ["Relative Abundance of", "Clostridiaceae"], "titleFontSize": 19, "titleLineHeight": 23, "titlePadding": 5, "labelPadding": 3}}
        }},
       {"data": {"name": "E"}, "transform": [{"filter": "datum.p=='i'"}],
        "mark": {"type": "errorbar", "extent": "stderr", "orient": "vertical", "color": "#1a1a1a", "ticks": {"size": 14, "thickness": 1.5}, "rule": {"strokeWidth": 1.5}},
        "encoding": {"x": {"field": "g", "type": "quantitative", "title": ""}, "y": {"field": "v", "type": "quantitative", "title": ""}}},
       {"data": {"name": "E"}, "transform": [{"filter": "datum.p=='i'"}],
        "mark": {"type": "point", "filled": true, "size": 45, "stroke": "#1a1a1a", "strokeWidth": 2, "opacity": 1},
        "encoding": {"x": {"field": "g", "type": "quantitative", "title": ""}, "xOffset": {"field": "j", "type": "quantitative", "scale": {"domain": [-1, 1], "range": [-8, 8]}}, "y": {"field": "v", "type": "quantitative", "title": ""},
                     "fill": {"condition": [{"test": "datum.g==2", "value": "#9b1b30"}, {"test": "datum.g==3", "value": "#8c8c8c"}], "value": "white"}}},
       {"data": {"name": "EB"}, "transform": [{"filter": "datum.p=='i'"}],
        "mark": {"type": "rule", "strokeWidth": 2.5, "color": "#333333"},
        "encoding": {"x": {"field": "a", "type": "quantitative", "title": ""}, "x2": {"field": "b"}, "y": {"field": "h", "type": "quantitative", "title": ""}}},
       {"data": {"name": "EB"}, "transform": [{"filter": "datum.p=='i'"}, {"fold": ["a", "b"], "as": ["end", "xe"]}],
        "mark": {"type": "tick", "orient": "vertical", "size": 12, "thickness": 2.5, "color": "#333333"},
        "encoding": {"x": {"field": "xe", "type": "quantitative", "title": ""}, "y": {"field": "h", "type": "quantitative", "title": ""}}},
       {"data": {"name": "ET"}, "transform": [{"filter": "datum.p=='i'"}],
        "mark": {"type": "text", "color": "#444444", "fontSize": 20, "dy": 6},
        "encoding": {"x": {"field": "x", "type": "quantitative", "title": ""}, "y": {"field": "y", "type": "quantitative", "title": ""}, "text": {"field": "t"}}}
      ]
     },
     {"width": 197, "height": 197,
      "title": {"text": "E (ii).", "dx": -86, "offset": 11, "fontSize": 23},
      "layer": [
       {"data": {"name": "E"}, "transform": [{"filter": "datum.p=='ii'"}],
        "mark": {"type": "bar", "width": 25, "fill": "white", "stroke": "#1a1a1a", "strokeWidth": 3},
        "encoding": {
         "x": {"field": "g", "type": "quantitative", "scale": {"domain": [0.3, 3.3], "range": [0, 120], "nice": false, "zero": false},
               "axis": {"values": [1,2,3], "labelExpr": "datum.value==1?'Control':datum.value==2?'Ampicillin':'Withdrawal'", "labelAngle": -45, "labelFontSize": 17, "ticks": false, "domainWidth": 2.5, "title": null, "labelPadding": 5}},
         "y": {"aggregate": "mean", "field": "v", "type": "quantitative", "scale": {"domain": [0, 0.08], "range": [197, 0], "nice": false},
               "axis": {"values": [0, 0.02, 0.04, 0.06, 0.08], "tickCount": 20, "format": ".2f", "labelFontSize": 14, "tickSize": 6, "tickWidth": 2.5, "domainWidth": 2.5, "title": ["Relative Abundance of", "Coriobacteriacea"], "titleFontSize": 19, "titleLineHeight": 23, "titlePadding": 5, "labelPadding": 3}}
        }},
       {"data": {"name": "E"}, "transform": [{"filter": "datum.p=='ii'"}],
        "mark": {"type": "errorbar", "extent": "stderr", "orient": "vertical", "color": "#1a1a1a", "ticks": {"size": 14, "thickness": 1.5}, "rule": {"strokeWidth": 1.5}},
        "encoding": {"x": {"field": "g", "type": "quantitative", "title": ""}, "y": {"field": "v", "type": "quantitative", "title": ""}}},
       {"data": {"name": "E"}, "transform": [{"filter": "datum.p=='ii'"}],
        "mark": {"type": "point", "filled": true, "size": 45, "stroke": "#1a1a1a", "strokeWidth": 2, "opacity": 1},
        "encoding": {"x": {"field": "g", "type": "quantitative", "title": ""}, "xOffset": {"field": "j", "type": "quantitative", "scale": {"domain": [-1, 1], "range": [-8, 8]}}, "y": {"field": "v", "type": "quantitative", "title": ""},
                     "fill": {"condition": [{"test": "datum.g==2", "value": "#9b1b30"}, {"test": "datum.g==3", "value": "#8c8c8c"}], "value": "white"}}},
       {"data": {"name": "EB"}, "transform": [{"filter": "datum.p=='ii'"}],
        "mark": {"type": "rule", "strokeWidth": 2.5, "color": "#333333"},
        "encoding": {"x": {"field": "a", "type": "quantitative", "title": ""}, "x2": {"field": "b"}, "y": {"field": "h", "type": "quantitative", "title": ""}}},
       {"data": {"name": "EB"}, "transform": [{"filter": "datum.p=='ii'"}, {"fold": ["a", "b"], "as": ["end", "xe"]}],
        "mark": {"type": "tick", "orient": "vertical", "size": 12, "thickness": 2.5, "color": "#333333"},
        "encoding": {"x": {"field": "xe", "type": "quantitative", "title": ""}, "y": {"field": "h", "type": "quantitative", "title": ""}}},
       {"data": {"name": "ET"}, "transform": [{"filter": "datum.p=='ii'"}],
        "mark": {"type": "text", "color": "#444444", "fontSize": 14},
        "encoding": {"x": {"field": "x", "type": "quantitative", "title": ""}, "y": {"field": "y", "type": "quantitative", "title": ""}, "text": {"field": "t"}}}
      ]
     },
     {"width": 197, "height": 199,
      "title": {"text": "E (iii).", "dx": -89, "offset": 10, "fontSize": 23},
      "layer": [
       {"data": {"name": "E"}, "transform": [{"filter": "datum.p=='iii'"}],
        "mark": {"type": "bar", "width": 25, "fill": "white", "stroke": "#1a1a1a", "strokeWidth": 3},
        "encoding": {
         "x": {"field": "g", "type": "quantitative", "scale": {"domain": [0.3, 3.3], "range": [0, 120], "nice": false, "zero": false},
               "axis": {"values": [1,2,3], "labelExpr": "datum.value==1?'Control':datum.value==2?'Ampicillin 2':'Withdrawal'", "labelAngle": -45, "labelFontSize": 17, "ticks": false, "domainWidth": 2.5, "title": null, "labelPadding": 5}},
         "y": {"aggregate": "mean", "field": "v", "type": "quantitative", "scale": {"domain": [0, 0.05], "range": [199, 2], "nice": false},
               "axis": {"values": [0, 0.01, 0.02, 0.03, 0.04, 0.05], "tickCount": 20, "format": ".2f", "labelFontSize": 14, "tickSize": 6, "tickWidth": 2.5, "domainWidth": 2.5, "title": ["Relative Abundance of", "Erysipelotricacea"], "titleFontSize": 19, "titleLineHeight": 23, "titlePadding": 5, "labelPadding": 3}}
        }},
       {"data": {"name": "E"}, "transform": [{"filter": "datum.p=='iii'"}],
        "mark": {"type": "errorbar", "extent": "stderr", "orient": "vertical", "color": "#1a1a1a", "ticks": {"size": 14, "thickness": 1.5}, "rule": {"strokeWidth": 1.5}},
        "encoding": {"x": {"field": "g", "type": "quantitative", "title": ""}, "y": {"field": "v", "type": "quantitative", "title": ""}}},
       {"data": {"name": "E"}, "transform": [{"filter": "datum.p=='iii'"}],
        "mark": {"type": "point", "filled": true, "size": 45, "stroke": "#1a1a1a", "strokeWidth": 2, "opacity": 1},
        "encoding": {"x": {"field": "g", "type": "quantitative", "title": ""}, "xOffset": {"field": "j", "type": "quantitative", "scale": {"domain": [-1, 1], "range": [-8, 8]}}, "y": {"field": "v", "type": "quantitative", "title": ""},
                     "fill": {"condition": [{"test": "datum.g==2", "value": "#9b1b30"}, {"test": "datum.g==3", "value": "#8c8c8c"}], "value": "white"}}},
       {"data": {"name": "EB"}, "transform": [{"filter": "datum.p=='iii'"}],
        "mark": {"type": "rule", "strokeWidth": 2.5, "color": "#333333"},
        "encoding": {"x": {"field": "a", "type": "quantitative", "title": ""}, "x2": {"field": "b"}, "y": {"field": "h", "type": "quantitative", "title": ""}}},
       {"data": {"name": "EB"}, "transform": [{"filter": "datum.p=='iii'"}, {"fold": ["a", "b"], "as": ["end", "xe"]}],
        "mark": {"type": "tick", "orient": "vertical", "size": 12, "thickness": 2.5, "color": "#333333"},
        "encoding": {"x": {"field": "xe", "type": "quantitative", "title": ""}, "y": {"field": "h", "type": "quantitative", "title": ""}}},
       {"data": {"name": "ET"}, "transform": [{"filter": "datum.p=='iii'"}],
        "mark": {"type": "text", "color": "#444444", "fontSize": 14},
        "encoding": {"x": {"field": "x", "type": "quantitative", "title": ""}, "y": {"field": "y", "type": "quantitative", "title": ""}, "text": {"field": "t"}}}
      ]
     },
     {"width": 125, "height": 210,
      "title": {"text": "E (iv).", "dx": -87, "offset": 9, "fontSize": 23},
      "layer": [
       {"data": {"name": "E"}, "transform": [{"filter": "datum.p=='iv'"}],
        "mark": {"type": "bar", "width": 25, "fill": "white", "stroke": "#1a1a1a", "strokeWidth": 3},
        "encoding": {
         "x": {"field": "g", "type": "quantitative", "scale": {"domain": [0.3, 3.3], "range": [0, 120], "nice": false, "zero": false},
               "axis": {"values": [1,2,3], "labelExpr": "datum.value==1?'Control':datum.value==2?'Ampicillin':'Withdrawal'", "labelAngle": -45, "labelFontSize": 17, "ticks": false, "domainWidth": 2.5, "title": null, "labelPadding": 5}},
         "y": {"aggregate": "mean", "field": "v", "type": "quantitative", "scale": {"domain": [0, 1], "range": [210, 10], "nice": false},
               "axis": {"values": [0, 0.2, 0.4, 0.6, 0.8, 1], "tickCount": 20, "format": ".1f", "labelFontSize": 14, "tickSize": 6, "tickWidth": 2.5, "domainWidth": 2.5, "title": ["Relative Abundance of", "Lactobacilacea"], "titleFontSize": 19, "titleLineHeight": 23, "titlePadding": 5, "labelPadding": 3}}
        }},
       {"data": {"name": "E"}, "transform": [{"filter": "datum.p=='iv'"}],
        "mark": {"type": "errorbar", "extent": "stderr", "orient": "vertical", "color": "#1a1a1a", "ticks": {"size": 14, "thickness": 1.5}, "rule": {"strokeWidth": 1.5}},
        "encoding": {"x": {"field": "g", "type": "quantitative", "title": ""}, "y": {"field": "v", "type": "quantitative", "title": ""}}},
       {"data": {"name": "E"}, "transform": [{"filter": "datum.p=='iv'"}],
        "mark": {"type": "point", "filled": true, "size": 45, "stroke": "#1a1a1a", "strokeWidth": 2, "opacity": 1},
        "encoding": {"x": {"field": "g", "type": "quantitative", "title": ""}, "xOffset": {"field": "j", "type": "quantitative", "scale": {"domain": [-1, 1], "range": [-8, 8]}}, "y": {"field": "v", "type": "quantitative", "title": ""},
                     "fill": {"condition": [{"test": "datum.g==2", "value": "#9b1b30"}, {"test": "datum.g==3", "value": "#8c8c8c"}], "value": "white"}}},
       {"data": {"name": "EB"}, "transform": [{"filter": "datum.p=='iv'"}],
        "mark": {"type": "rule", "strokeWidth": 2.5, "color": "#333333"},
        "encoding": {"x": {"field": "a", "type": "quantitative", "title": ""}, "x2": {"field": "b"}, "y": {"field": "h", "type": "quantitative", "title": ""}}},
       {"data": {"name": "EB"}, "transform": [{"filter": "datum.p=='iv'"}, {"fold": ["a", "b"], "as": ["end", "xe"]}],
        "mark": {"type": "tick", "orient": "vertical", "size": 12, "thickness": 2.5, "color": "#333333"},
        "encoding": {"x": {"field": "xe", "type": "quantitative", "title": ""}, "y": {"field": "h", "type": "quantitative", "title": ""}}},
       {"data": {"name": "ET"}, "transform": [{"filter": "datum.p=='iv'"}],
        "mark": {"type": "text", "color": "#444444", "fontSize": 14},
        "encoding": {"x": {"field": "x", "type": "quantitative", "title": ""}, "y": {"field": "y", "type": "quantitative", "title": ""}, "text": {"field": "t"}}}
      ]
     }
    ]
   },
   {"spacing": 20,
    "resolve": {"scale": {"color": "independent", "fill": "independent", "xOffset": "independent", "size": "independent"}, "legend": {"color": "independent", "fill": "independent"}},
    "hconcat": [
     {"width": 105, "height": 5, "data": {"values": []}, "mark": "point", "encoding": {}},
     {"width": 179, "height": 199,
      "title": {"text": "E (v).", "dx": -83, "offset": 40, "fontSize": 23},
      "layer": [
       {"data": {"name": "E"}, "transform": [{"filter": "datum.p=='v'"}],
        "mark": {"type": "bar", "width": 25, "fill": "white", "stroke": "#1a1a1a", "strokeWidth": 3},
        "encoding": {
         "x": {"field": "g", "type": "quantitative", "scale": {"domain": [0.3, 3.3], "range": [0, 120], "nice": false, "zero": false},
               "axis": {"values": [1,2,3], "labelExpr": "datum.value==1?'Control':datum.value==2?'Ampicillin':'Withdrawal'", "labelAngle": -45, "labelFontSize": 17, "ticks": false, "domainWidth": 2.5, "title": null, "labelPadding": 5}},
         "y": {"aggregate": "mean", "field": "v", "type": "quantitative", "scale": {"domain": [0, 0.8], "range": [199, 0], "nice": false},
               "axis": {"values": [0, 0.2, 0.4, 0.6, 0.8], "tickCount": 20, "format": ".1f", "labelFontSize": 14, "tickSize": 6, "tickWidth": 2.5, "domainWidth": 2.5, "title": ["Relative Abundance of", "Bacteroidaceae"], "titleFontSize": 19, "titleLineHeight": 23, "titlePadding": 5, "labelPadding": 3}}
        }},
       {"data": {"name": "E"}, "transform": [{"filter": "datum.p=='v'"}],
        "mark": {"type": "errorbar", "extent": "stderr", "orient": "vertical", "color": "#1a1a1a", "ticks": {"size": 14, "thickness": 1.5}, "rule": {"strokeWidth": 1.5}},
        "encoding": {"x": {"field": "g", "type": "quantitative", "title": ""}, "y": {"field": "v", "type": "quantitative", "title": ""}}},
       {"data": {"name": "E"}, "transform": [{"filter": "datum.p=='v'"}],
        "mark": {"type": "point", "filled": true, "size": 45, "stroke": "#1a1a1a", "strokeWidth": 2, "opacity": 1},
        "encoding": {"x": {"field": "g", "type": "quantitative", "title": ""}, "xOffset": {"field": "j", "type": "quantitative", "scale": {"domain": [-1, 1], "range": [-8, 8]}}, "y": {"field": "v", "type": "quantitative", "title": ""},
                     "fill": {"condition": [{"test": "datum.g==2", "value": "#9b1b30"}, {"test": "datum.g==3", "value": "#ffffff"}], "value": "white"}}},
       {"data": {"name": "EB"}, "transform": [{"filter": "datum.p=='v'"}],
        "mark": {"type": "rule", "strokeWidth": 2.5, "color": "#333333"},
        "encoding": {"x": {"field": "a", "type": "quantitative", "title": ""}, "x2": {"field": "b"}, "y": {"field": "h", "type": "quantitative", "title": ""}}},
       {"data": {"name": "EB"}, "transform": [{"filter": "datum.p=='v'"}, {"fold": ["a", "b"], "as": ["end", "xe"]}],
        "mark": {"type": "tick", "orient": "vertical", "size": 12, "thickness": 2.5, "color": "#333333"},
        "encoding": {"x": {"field": "xe", "type": "quantitative", "title": ""}, "y": {"field": "h", "type": "quantitative", "title": ""}}},
       {"data": {"name": "ET"}, "transform": [{"filter": "datum.p=='v'"}],
        "mark": {"type": "text", "color": "#444444", "fontSize": 20, "dy": 6},
        "encoding": {"x": {"field": "x", "type": "quantitative", "title": ""}, "y": {"field": "y", "type": "quantitative", "title": ""}, "text": {"field": "t"}}}
      ]
     },
     {"width": 194, "height": 199,
      "title": {"text": "E (vi).", "dx": -91, "offset": 36, "fontSize": 23},
      "layer": [
       {"data": {"name": "E"}, "transform": [{"filter": "datum.p=='vi'"}],
        "mark": {"type": "bar", "width": 25, "fill": "white", "stroke": "#1a1a1a", "strokeWidth": 3},
        "encoding": {
         "x": {"field": "g", "type": "quantitative", "scale": {"domain": [0.3, 3.3], "range": [0, 120], "nice": false, "zero": false},
               "axis": {"values": [1,2,3], "labelExpr": "datum.value==1?'Control':datum.value==2?'Ampicillin':'Withdrawal'", "labelAngle": -45, "labelFontSize": 17, "ticks": false, "domainWidth": 2.5, "title": null, "labelPadding": 5}},
         "y": {"aggregate": "mean", "field": "v", "type": "quantitative", "scale": {"domain": [0, 0.2], "range": [199, 0], "nice": false},
               "axis": {"values": [0, 0.05, 0.1, 0.15, 0.2], "tickCount": 20, "format": ".2f", "labelFontSize": 14, "tickSize": 6, "tickWidth": 2.5, "domainWidth": 2.5, "title": ["Relative Abundance of", "Enterobacteriaceae"], "titleFontSize": 19, "titleLineHeight": 23, "titlePadding": 5, "labelPadding": 3}}
        }},
       {"data": {"name": "E"}, "transform": [{"filter": "datum.p=='vi'"}],
        "mark": {"type": "errorbar", "extent": "stderr", "orient": "vertical", "color": "#1a1a1a", "ticks": {"size": 14, "thickness": 1.5}, "rule": {"strokeWidth": 1.5}},
        "encoding": {"x": {"field": "g", "type": "quantitative", "title": ""}, "y": {"field": "v", "type": "quantitative", "title": ""}}},
       {"data": {"name": "E"}, "transform": [{"filter": "datum.p=='vi'"}],
        "mark": {"type": "point", "filled": true, "size": 45, "stroke": "#1a1a1a", "strokeWidth": 2, "opacity": 1},
        "encoding": {"x": {"field": "g", "type": "quantitative", "title": ""}, "xOffset": {"field": "j", "type": "quantitative", "scale": {"domain": [-1, 1], "range": [-8, 8]}}, "y": {"field": "v", "type": "quantitative", "title": ""},
                     "fill": {"condition": [{"test": "datum.g==2", "value": "#9b1b30"}, {"test": "datum.g==3", "value": "#ffffff"}], "value": "white"}}},
       {"data": {"name": "EB"}, "transform": [{"filter": "datum.p=='vi'"}],
        "mark": {"type": "rule", "strokeWidth": 2.5, "color": "#333333"},
        "encoding": {"x": {"field": "a", "type": "quantitative", "title": ""}, "x2": {"field": "b"}, "y": {"field": "h", "type": "quantitative", "title": ""}}},
       {"data": {"name": "EB"}, "transform": [{"filter": "datum.p=='vi'"}, {"fold": ["a", "b"], "as": ["end", "xe"]}],
        "mark": {"type": "tick", "orient": "vertical", "size": 12, "thickness": 2.5, "color": "#333333"},
        "encoding": {"x": {"field": "xe", "type": "quantitative", "title": ""}, "y": {"field": "h", "type": "quantitative", "title": ""}}},
       {"data": {"name": "ET"}, "transform": [{"filter": "datum.p=='vi'"}],
        "mark": {"type": "text", "color": "#444444", "fontSize": 20, "dy": 6},
        "encoding": {"x": {"field": "x", "type": "quantitative", "title": ""}, "y": {"field": "y", "type": "quantitative", "title": ""}, "text": {"field": "t"}}}
      ]
     },
     {"width": 188, "height": 219,
      "title": {"text": "E (vii).", "dx": -95, "offset": 29, "fontSize": 23},
      "layer": [
       {"data": {"name": "E"}, "transform": [{"filter": "datum.p=='vii'"}],
        "mark": {"type": "bar", "width": 25, "fill": "white", "stroke": "#1a1a1a", "strokeWidth": 3},
        "encoding": {
         "x": {"field": "g", "type": "quantitative", "scale": {"domain": [0.3, 3.3], "range": [0, 120], "nice": false, "zero": false},
               "axis": {"values": [1,2,3], "labelExpr": "datum.value==1?'Control':datum.value==2?'Ampicillin':'Withdrawal'", "labelAngle": -45, "labelFontSize": 17, "ticks": false, "domainWidth": 2.5, "title": null, "labelPadding": 5}},
         "y": {"aggregate": "mean", "field": "v", "type": "quantitative", "scale": {"domain": [0, 0.04], "range": [219, 21], "nice": false},
               "axis": {"values": [0, 0.01, 0.02, 0.03, 0.04], "tickCount": 20, "format": ".2f", "labelFontSize": 14, "tickSize": 6, "tickWidth": 2.5, "domainWidth": 2.5, "title": ["Relative Abundance of", "Sutterellaceae"], "titleFontSize": 19, "titleLineHeight": 23, "titlePadding": 5, "labelPadding": 3}}
        }},
       {"data": {"name": "E"}, "transform": [{"filter": "datum.p=='vii'"}],
        "mark": {"type": "errorbar", "extent": "stderr", "orient": "vertical", "color": "#1a1a1a", "ticks": {"size": 14, "thickness": 1.5}, "rule": {"strokeWidth": 1.5}},
        "encoding": {"x": {"field": "g", "type": "quantitative", "title": ""}, "y": {"field": "v", "type": "quantitative", "title": ""}}},
       {"data": {"name": "E"}, "transform": [{"filter": "datum.p=='vii'"}],
        "mark": {"type": "point", "filled": true, "size": 45, "stroke": "#1a1a1a", "strokeWidth": 2, "opacity": 1},
        "encoding": {"x": {"field": "g", "type": "quantitative", "title": ""}, "xOffset": {"field": "j", "type": "quantitative", "scale": {"domain": [-1, 1], "range": [-8, 8]}}, "y": {"field": "v", "type": "quantitative", "title": ""},
                     "fill": {"condition": [{"test": "datum.g==2", "value": "#9b1b30"}, {"test": "datum.g==3", "value": "#8c8c8c"}], "value": "white"}}},
       {"data": {"name": "EB"}, "transform": [{"filter": "datum.p=='vii'"}],
        "mark": {"type": "rule", "strokeWidth": 2.5, "color": "#333333"},
        "encoding": {"x": {"field": "a", "type": "quantitative", "title": ""}, "x2": {"field": "b"}, "y": {"field": "h", "type": "quantitative", "title": ""}}},
       {"data": {"name": "EB"}, "transform": [{"filter": "datum.p=='vii'"}, {"fold": ["a", "b"], "as": ["end", "xe"]}],
        "mark": {"type": "tick", "orient": "vertical", "size": 12, "thickness": 2.5, "color": "#333333"},
        "encoding": {"x": {"field": "xe", "type": "quantitative", "title": ""}, "y": {"field": "h", "type": "quantitative", "title": ""}}},
       {"data": {"name": "ET"}, "transform": [{"filter": "datum.p=='vii'"}],
        "mark": {"type": "text", "color": "#444444", "fontSize": 20, "dy": 6},
        "encoding": {"x": {"field": "x", "type": "quantitative", "title": ""}, "y": {"field": "y", "type": "quantitative", "title": ""}, "text": {"field": "t"}}}
      ]
     },
     {"width": 125, "height": 211,
      "title": {"text": "E (viii).", "dx": -93, "offset": 20, "fontSize": 23},
      "layer": [
       {"data": {"name": "E"}, "transform": [{"filter": "datum.p=='viii'"}],
        "mark": {"type": "bar", "width": 25, "fill": "white", "stroke": "#1a1a1a", "strokeWidth": 3},
        "encoding": {
         "x": {"field": "g", "type": "quantitative", "scale": {"domain": [0.3, 3.3], "range": [0, 120], "nice": false, "zero": false},
               "axis": {"values": [1,2,3], "labelExpr": "datum.value==1?'Control':datum.value==2?'Ampicillin':'Withdrawal'", "labelAngle": -45, "labelFontSize": 17, "ticks": false, "domainWidth": 2.5, "title": null, "labelPadding": 5}},
         "y": {"aggregate": "mean", "field": "v", "type": "quantitative", "scale": {"domain": [0, 0.1], "range": [211, 12], "nice": false},
               "axis": {"values": [0, 0.02, 0.04, 0.06, 0.08, 0.1], "tickCount": 20, "format": ".2f", "labelFontSize": 14, "tickSize": 6, "tickWidth": 2.5, "domainWidth": 2.5, "title": ["Relative Abundance of", "Prevotellaceae"], "titleFontSize": 19, "titleLineHeight": 23, "titlePadding": 5, "labelPadding": 3}}
        }},
       {"data": {"name": "E"}, "transform": [{"filter": "datum.p=='viii'"}],
        "mark": {"type": "errorbar", "extent": "stderr", "orient": "vertical", "color": "#1a1a1a", "ticks": {"size": 14, "thickness": 1.5}, "rule": {"strokeWidth": 1.5}},
        "encoding": {"x": {"field": "g", "type": "quantitative", "title": ""}, "y": {"field": "v", "type": "quantitative", "title": ""}}},
       {"data": {"name": "E"}, "transform": [{"filter": "datum.p=='viii'"}],
        "mark": {"type": "point", "filled": true, "size": 45, "stroke": "#1a1a1a", "strokeWidth": 2, "opacity": 1},
        "encoding": {"x": {"field": "g", "type": "quantitative", "title": ""}, "xOffset": {"field": "j", "type": "quantitative", "scale": {"domain": [-1, 1], "range": [-8, 8]}}, "y": {"field": "v", "type": "quantitative", "title": ""},
                     "fill": {"condition": [{"test": "datum.g==2", "value": "#9b1b30"}, {"test": "datum.g==3", "value": "#8c8c8c"}], "value": "white"}}},
       {"data": {"name": "EB"}, "transform": [{"filter": "datum.p=='viii'"}],
        "mark": {"type": "rule", "strokeWidth": 2.5, "color": "#333333"},
        "encoding": {"x": {"field": "a", "type": "quantitative", "title": ""}, "x2": {"field": "b"}, "y": {"field": "h", "type": "quantitative", "title": ""}}},
       {"data": {"name": "EB"}, "transform": [{"filter": "datum.p=='viii'"}, {"fold": ["a", "b"], "as": ["end", "xe"]}],
        "mark": {"type": "tick", "orient": "vertical", "size": 12, "thickness": 2.5, "color": "#333333"},
        "encoding": {"x": {"field": "xe", "type": "quantitative", "title": ""}, "y": {"field": "h", "type": "quantitative", "title": ""}}},
       {"data": {"name": "ET"}, "transform": [{"filter": "datum.p=='viii'"}],
        "mark": {"type": "text", "color": "#444444", "fontSize": 20, "dy": 6},
        "encoding": {"x": {"field": "x", "type": "quantitative", "title": ""}, "y": {"field": "y", "type": "quantitative", "title": ""}, "text": {"field": "t"}}}
      ]
     }
    ]
   }
  ]
 }
]
}
